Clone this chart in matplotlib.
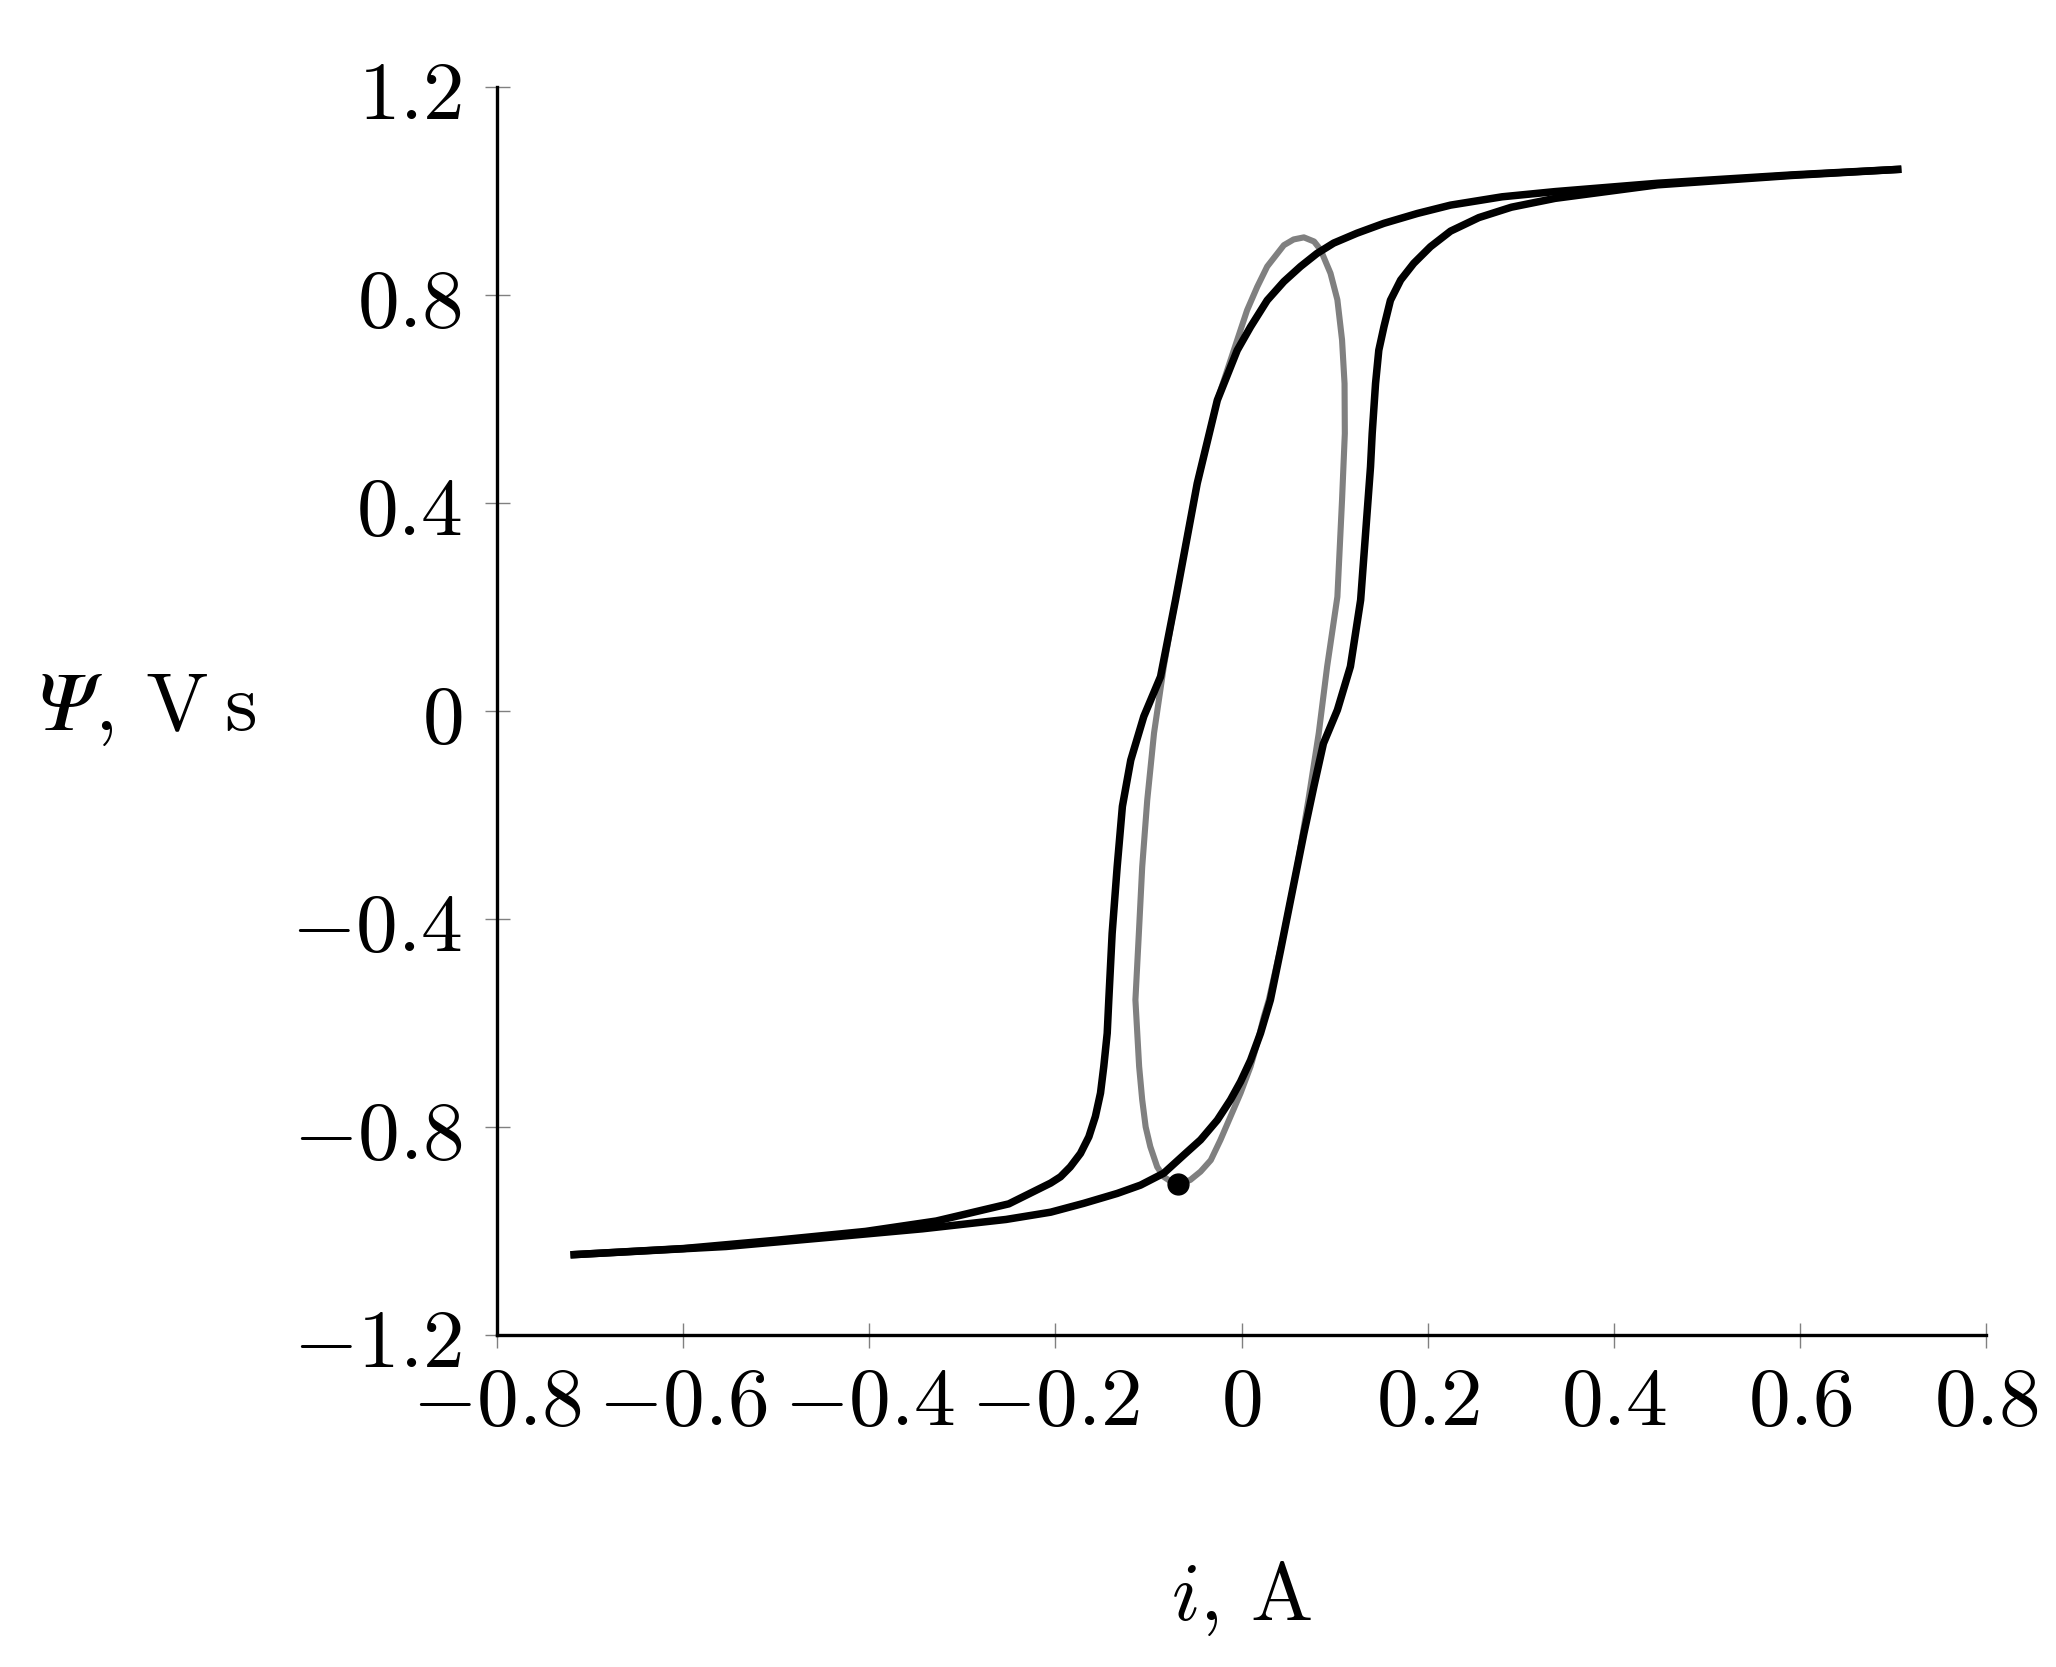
import matplotlib
matplotlib.use("Agg")
import matplotlib.pyplot as plt

plt.rcParams['mathtext.fontset'] = 'cm'
plt.rcParams['axes.unicode_minus'] = True

# descending branch of the major loop (left one)
desc_i = [-0.721, -0.600, -0.500, -0.404, -0.328, -0.250, -0.205, -0.1945, -0.184,
          -0.173, -0.164, -0.157, -0.1515, -0.148, -0.1443, -0.1426, -0.139, -0.1336,
          -0.128, -0.119, -0.105, -0.087, -0.0709, -0.0476, -0.026, -0.0046, 0.0097,
          0.0276, 0.0455, 0.0634, 0.081, 0.099, 0.124, 0.153, 0.189, 0.2246, 0.28,
          0.337, 0.447, 0.591, 0.709]
desc_psi = [-1.046, -1.034, -1.018, -1.001, -0.981, -0.948, -0.908, -0.896, -0.877,
            -0.851, -0.819, -0.780, -0.735, -0.684, -0.620, -0.556, -0.428, -0.300,
            -0.184, -0.095, -0.011, 0.0655, 0.213, 0.437, 0.597, 0.693, 0.738,
            0.789, 0.825, 0.854, 0.879, 0.899, 0.918, 0.937, 0.956, 0.972, 0.988,
            0.998, 1.014, 1.030, 1.041]

# ascending branch of the major loop (right one)
asc_i = [-0.721, -0.554, -0.441, -0.343, -0.253, -0.205, -0.1695, -0.1336, -0.1085,
         -0.0835, -0.062, -0.044, -0.026, -0.0118, -0.001, 0.0097, 0.0204, 0.031, 0.042,
         0.0527, 0.067, 0.0777, 0.088, 0.103, 0.117, 0.128, 0.1386, 0.1404, 0.144,
         0.1475, 0.153, 0.160, 0.171, 0.185, 0.203, 0.2246, 0.255, 0.29, 0.337,
         0.447, 0.591, 0.709]
asc_psi = [-1.046, -1.030, -1.012, -0.996, -0.978, -0.964, -0.947, -0.928, -0.912,
           -0.889, -0.854, -0.825, -0.787, -0.748, -0.713, -0.672, -0.620, -0.556, -0.460,
           -0.364, -0.236, -0.146, -0.063, 0.0014, 0.085, 0.213, 0.469, 0.533, 0.629,
           0.693, 0.738, 0.789, 0.828, 0.860, 0.892, 0.922, 0.948, 0.968, 0.985,
           1.011, 1.029, 1.041]

# minor loop (grey), starting and ending at the marked point
minor_i = [-0.068, -0.076, -0.0835, -0.0906, -0.098, -0.103, -0.1067, -0.110, -0.114,
           -0.1103, -0.1067, -0.1013, -0.094, -0.0835, -0.071, -0.0476, -0.026, -0.0118,
           0.006, 0.0169, 0.0276, 0.0455, 0.056, 0.067, 0.078, 0.085, 0.0956, 0.103,
           0.108, 0.1107, 0.111, 0.108, 0.103, 0.092, 0.083, 0.072, 0.0598, 0.0455,
           0.0293, 0.024, 0.0169, 0.0097, -0.001, -0.0118, -0.0226, -0.033, -0.044,
           -0.055, -0.068]
minor_psi = [-0.910, -0.905, -0.896, -0.877, -0.838, -0.800, -0.748, -0.684, -0.556,
             -0.428, -0.300, -0.172, -0.043, 0.085, 0.213, 0.437, 0.597, 0.674,
             0.770, 0.815, 0.854, 0.895, 0.906, 0.910, 0.902, 0.886, 0.841, 0.790,
             0.713, 0.629, 0.533, 0.405, 0.219, 0.085, -0.043, -0.170, -0.300, -0.428,
             -0.556, -0.588, -0.639, -0.684, -0.735, -0.780, -0.825, -0.864, -0.886,
             -0.902, -0.910]

start_i, start_psi = -0.068, -0.910

xticks = [-0.8, -0.6, -0.4, -0.2, 0.0, 0.2, 0.4, 0.6, 0.8]
yticks = [-1.2, -0.8, -0.4, 0.0, 0.4, 0.8, 1.2]


def fmt(v):
    if v == 0:
        return r'$0$'
    return r'$%.1f$' % v


fig = plt.figure(figsize=(20.56, 16.67), dpi=100)
ax = fig.add_axes([0.2417, 0.1992, 0.7243, 0.7489])

ax.plot(minor_i, minor_psi, color='#808080', lw=4.4, solid_joinstyle='round')
ax.plot(desc_i, desc_psi, color='black', lw=5.4, solid_capstyle='butt', solid_joinstyle='round')
ax.plot(asc_i, asc_psi, color='black', lw=5.4, solid_capstyle='butt', solid_joinstyle='round')
ax.plot([start_i], [start_psi], 'o', color='black', ms=15)

ax.set_xlim(-0.8, 0.8)
ax.set_ylim(-1.2, 1.2)
ax.set_xticks(xticks)
ax.set_xticklabels([fmt(v) for v in xticks])
ax.set_yticks(yticks)
ax.set_yticklabels([fmt(v) for v in yticks])

for s in ['top', 'right']:
    ax.spines[s].set_visible(False)
for s in ['left', 'bottom']:
    ax.spines[s].set_linewidth(2.4)
    ax.spines[s].set_color('black')

ax.tick_params(direction='inout', length=18, width=1.0, color='#808080',
               labelsize=60)
ax.tick_params(axis='x', pad=10)
ax.tick_params(axis='y', pad=16)

ax.set_xlabel(r'$i$, A', fontsize=60, family='cmr10')
ax.xaxis.set_label_coords(0.5, -0.18)
ax.set_ylabel('$\U0001D6F9$, V$\\;$s', fontsize=60, family='cmr10',
              math_fontfamily='stix', rotation=0, ha='left', va='center')
ax.yaxis.set_label_coords(-0.3076, 0.5)

fig.savefig('out.png', dpi=100)
